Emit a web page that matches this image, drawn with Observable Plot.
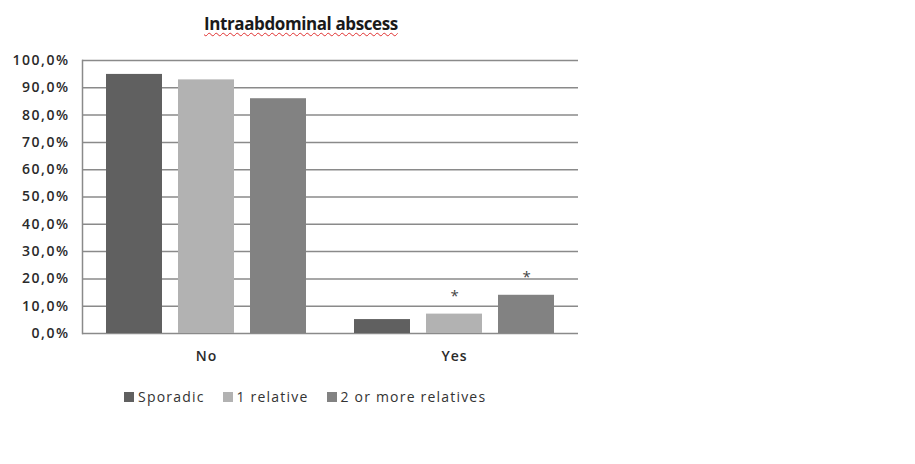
<!DOCTYPE html>
<html>
<head>
<meta charset="utf-8">
<script src="https://cdn.jsdelivr.net/npm/d3@7"></script>
<script src="https://cdn.jsdelivr.net/npm/@observablehq/plot@0.6"></script>
<style>
  html, body { margin: 0; padding: 0; background: #fff; }
  body { width: 915px; height: 464px; position: relative; overflow: hidden; font-family: "Open Sans", sans-serif; }
  #title { height: 40px; position: relative; }
  #title span { position: absolute; left: 204px; white-space: nowrap; top: 12px; font-weight: bold; font-size: 17px; letter-spacing: -0.4px; color: #1a1a1a;
    text-decoration: underline wavy #e03030; text-decoration-thickness: 1px; text-underline-offset: 2px; }
  #legend { position: absolute; top: 387px; left: 124px; display: flex; align-items: center; font-size: 14px; color: #333; letter-spacing: 1.2px; }
  #legend .item { display: flex; align-items: center; margin-right: 18px; }
  #legend .sw { width: 10px; height: 10px; margin-right: 4px; }
  #chart { position: relative; }
</style>
</head>
<body>
<div id="title"><span>Intraabdominal abscess</span></div>
<div id="chart"></div>
<div id="legend"></div>
<script>
const categories = ["No", "Yes"];
const series = ["Sporadic", "1 relative", "2 or more relatives"];
const sporadic = [94.9, 5.1];
const oneRelative = [92.9, 7.1];
const twoOrMore = [86.0, 14.0];
const significant = [["Yes", "1 relative"], ["Yes", "2 or more relatives"]];
const yTicks = [0, 10, 20, 30, 40, 50, 60, 70, 80, 90, 100];
const colors = ["#606060", "#b2b2b2", "#828282"];

const valuesBySeries = [sporadic, oneRelative, twoOrMore];
const rows = [];
categories.forEach((c, i) => series.forEach((s, j) => rows.push({cat: c, series: s, value: valuesBySeries[j][i]})));
const sigRows = significant.map(([c, s]) => rows.find(r => r.cat === c && r.series === s));

const fmt = d => d.toFixed(1).replace(".", ",") + "%";

const chart = Plot.plot({
  width: 915,
  height: 340,
  marginTop: 20,
  marginBottom: 47,
  marginLeft: 82,
  marginRight: 337,
  style: {fontFamily: "Open Sans, sans-serif", fontSize: "14px", color: "#333", background: "transparent"},
  fx: {domain: categories, padding: 0, label: null, axis: "bottom", tickSize: 0, tickPadding: 18},
  x: {domain: series, axis: null, paddingInner: 0.22, paddingOuter: 0.31},
  y: {domain: [0, 100], ticks: yTicks, tickFormat: fmt, label: null, tickSize: 0, tickPadding: 13},
  color: {domain: series, range: colors},
  marks: [
    Plot.ruleY(yTicks, {stroke: "#8a8a8a", strokeWidth: 1.5}),
    Plot.frame({anchor: "left", facetAnchor: "left", stroke: "#8a8a8a", strokeWidth: 1.5}),
    Plot.barY(rows, {fx: "cat", x: "series", y: "value", fill: "series"}),
    Plot.text(sigRows, {fx: "cat", x: "series", y: "value", text: () => "*", dy: -18, fontSize: 15, fill: "#444"})
  ]
});
chart.querySelectorAll("[aria-label='y-axis tick label'] text").forEach(t => {
  t.setAttribute("font-size", "14");
  t.setAttribute("font-weight", "600");
  t.setAttribute("letter-spacing", "1.5");
  t.setAttribute("fill", "#2a2a2a");
});
chart.querySelectorAll("[aria-label='fx-axis tick label'] text").forEach(t => {
  t.setAttribute("font-size", "14");
  t.setAttribute("font-weight", "600");
  t.setAttribute("letter-spacing", "1");
  t.setAttribute("fill", "#2a2a2a");
});
document.getElementById("chart").appendChild(chart);

const legend = document.getElementById("legend");
series.forEach((s, i) => {
  const item = document.createElement("div");
  item.className = "item";
  item.innerHTML = `<div class="sw" style="background:${colors[i]}"></div><span>${s}</span>`;
  legend.appendChild(item);
});
</script>
</body>
</html>
